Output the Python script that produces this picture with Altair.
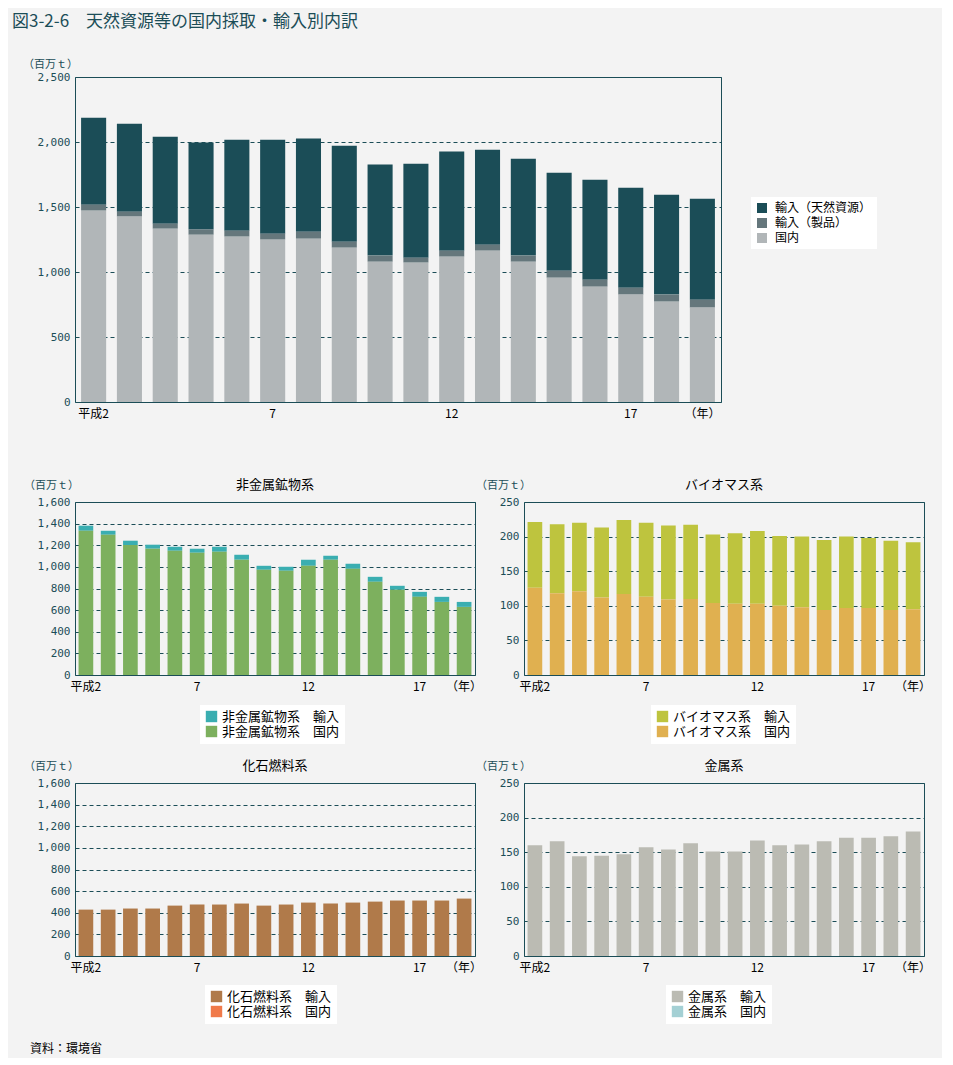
import altair as alt
import pandas as pd

FONT = "Noto Sans CJK JP"
NUMFONT = "DejaVu Sans Mono"
TEAL = "#1b4d57"

# 平成2年〜19年
years = list(range(2, 20))

# 上段：天然資源等の国内採取・輸入別内訳（百万t）
top_cats = ["輸入（天然資源）", "輸入（製品）", "国内"]
top_colors = ["#1b4d57", "#65777c", "#b1b6b8"]
top_res = [669, 677, 669, 671, 700, 723, 716, 739, 700, 723, 762, 731, 746, 754, 769, 770, 769, 777]
top_prod = [46, 38, 39, 39, 46, 46, 54, 46, 47, 38, 46, 46, 47, 54, 54, 53, 54, 61]
top_dom = [1472, 1426, 1333, 1287, 1272, 1249, 1256, 1187, 1079, 1072, 1118, 1164, 1079, 956, 887, 826, 772, 726]

# 非金属鉱物系
nm_cats = ["非金属鉱物系　輸入", "非金属鉱物系　国内"]
nm_colors = ["#3aaeb1", "#7db05e"]
nm_imp = [47, 37, 40, 37, 37, 37, 46, 46, 37, 37, 56, 37, 47, 46, 37, 46, 47, 46]
nm_dom = [1334, 1297, 1202, 1168, 1149, 1131, 1140, 1066, 973, 964, 1010, 1066, 982, 862, 788, 723, 676, 630]

# バイオマス系
bio_cats = ["バイオマス系　輸入", "バイオマス系　国内"]
bio_colors = ["#bec43e", "#e0b050"]
bio_imp = [95, 100, 99, 101, 107, 107, 107, 107, 99, 102, 105, 101, 102, 101, 103, 101, 100, 97]
bio_dom = [126, 118, 121, 112, 117, 113, 109, 110, 104, 103, 103, 100, 98, 94, 97, 97, 94, 95]

# 化石燃料系
fos_cats = ["化石燃料系　輸入", "化石燃料系　国内"]
fos_colors = ["#b07a4a", "#f07a4a"]
fos_imp = [429, 429, 439, 439, 466, 476, 476, 485, 466, 476, 494, 485, 494, 503, 513, 513, 513, 531]
fos_dom = [0] * 18

# 金属系
met_cats = ["金属系　輸入", "金属系　国内"]
met_colors = ["#bbbbb3", "#a4d0d4"]
met_imp = [160, 166, 144, 145, 147, 157, 154, 163, 151, 151, 167, 160, 161, 166, 171, 171, 173, 180]
met_dom = [0] * 18

source_text = ["資料：環境省"]

LABEL_EXPR = ("datum.value == 2 ? '平成2' : datum.value == 7 ? '7' : datum.value == 12 ? '12' : "
              "datum.value == 17 ? '17' : datum.value == 19 ? '（年）' : ''")


def make_df(cats, series):
    rows = []
    n = len(cats)
    for ci, (c, vals) in enumerate(zip(cats, series)):
        for y, v in zip(years, vals):
            rows.append({"year": y, "cat": c, "value": v, "ord": n - ci})
    return pd.DataFrame(rows)


def bar_chart(df, cats, colors, ymax, ystep, width, height, pin, pout,
              legend_x, legend_y, sym, lab_size, row_pad, lab_off, title=None,
              ytitle_x=-24, ytitle_y=-17):
    props = dict(width=width, height=height)
    if title is not None:
        props["title"] = alt.TitleParams(text=title, font=FONT, fontSize=13, fontWeight="normal",
                                         color="black", anchor="middle", offset=0, dy=13)
    return alt.Chart(df).mark_bar().encode(
        x=alt.X("year:O",
                scale=alt.Scale(paddingInner=pin, paddingOuter=pout),
                axis=alt.Axis(title=None, labelExpr=LABEL_EXPR, ticks=False, tickSize=0,
                              domain=False, labelAngle=0, labelFont=FONT, labelFontSize=12,
                              labelColor="black", labelPadding=6, labelOverlap=False)),
        y=alt.Y("value:Q", stack="zero",
                scale=alt.Scale(domain=[0, ymax], nice=False),
                axis=alt.Axis(values=list(range(0, ymax + 1, ystep)), format=",.0f",
                              grid=True, gridDash=[4, 3], gridColor=TEAL, gridWidth=1,
                              ticks=False, tickSize=0, domain=False,
                              labelFont=NUMFONT, labelFontSize=11, labelColor=TEAL,
                              labelPadding=5,
                              title="（百万ｔ）", titleAngle=0, titleX=ytitle_x, titleY=ytitle_y,
                              titleAlign="center", titleBaseline="middle", titleFont=FONT,
                              titleFontSize=11, titleColor=TEAL, titleFontWeight="normal")),
        color=alt.Color("cat:N",
                        scale=alt.Scale(domain=cats, range=colors),
                        legend=alt.Legend(title=None, orient="none", legendX=legend_x,
                                          legendY=legend_y, fillColor="white", padding=5,
                                          symbolType="square", symbolSize=sym,
                                          symbolStrokeWidth=0, labelFont=FONT,
                                          labelFontSize=lab_size, labelColor="black",
                                          rowPadding=row_pad, labelOffset=lab_off)),
        order=alt.Order("ord:Q", sort="ascending"),
    ).properties(**props)


top = bar_chart(make_df(top_cats, [top_res, top_prod, top_dom]), top_cats, top_colors,
                2500, 500, 646, 325, 0.3, 0.17, 676, 120, 100, 12, 3, 7,
                ytitle_x=-25, ytitle_y=-13)

ca = bar_chart(make_df(nm_cats, [nm_imp, nm_dom]), nm_cats, nm_colors,
               1600, 200, 400, 173, 0.34, 0.16, 125, 203, 130, 13, 1, 4, title="非金属鉱物系")
cb = bar_chart(make_df(bio_cats, [bio_imp, bio_dom]), bio_cats, bio_colors,
               250, 50, 400, 173, 0.34, 0.16, 127, 203, 130, 13, 1, 4, title="バイオマス系",
               ytitle_x=-21)
cc = bar_chart(make_df(fos_cats, [fos_imp, fos_dom]), fos_cats, fos_colors,
               1600, 200, 400, 173, 0.34, 0.16, 130, 202, 130, 13, 1, 4, title="化石燃料系")
cd = bar_chart(make_df(met_cats, [met_imp, met_dom]), met_cats, met_colors,
               250, 50, 400, 173, 0.34, 0.16, 142, 202, 130, 13, 1, 4, title="金属系",
               ytitle_x=-21)

src = alt.Chart(pd.DataFrame({"t": source_text})).mark_text(
    align="left", baseline="middle", font=FONT, fontSize=12, color="black"
).encode(
    text="t:N", x=alt.value(-45), y=alt.value(9)
).properties(width=100, height=10, view=alt.ViewBackground(stroke="transparent"))


def indep(ch):
    return ch.resolve_scale(color="independent", x="independent", y="independent").resolve_legend(
        color="independent")


row1 = indep(alt.hconcat(ca, cb, spacing=49, bounds="flush"))
row2 = indep(alt.hconcat(cc, cd, spacing=49, bounds="flush"))
lower = indep(alt.vconcat(row1, row2, src, spacing=14))

chart = indep(alt.vconcat(top, lower, spacing=58)).properties(
    title=alt.TitleParams(text="図3-2-6　天然資源等の国内採取・輸入別内訳", anchor="start",
                          frame="bounds", dx=-10, fontSize=17, font=FONT, fontWeight="normal",
                          color=TEAL, offset=27),
    background="#f3f3f3",
    padding={"left": 4, "top": 4, "right": 10, "bottom": 2},
).configure_view(stroke=TEAL, strokeWidth=1)

chart.save("out.html", embed_options={"renderer": "svg", "actions": False})
